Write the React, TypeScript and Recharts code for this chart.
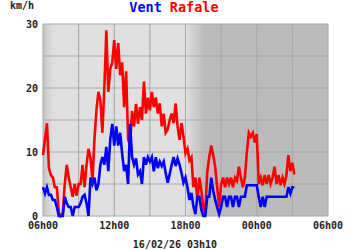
import React from 'react';
import { LineChart, Line, XAxis, YAxis, CartesianGrid } from 'recharts';

// samples every 10 min, from 06h00 to 03h10
const rafale = [
  9.5, 12, 14.5, 7.5, 6.4, 6, 4.5, 4.5, 0.5, 0, 0.5, 5, 8, 6, 4.5, 3, 5, 3.2, 5, 5,
  8, 4.5, 8, 10.5, 9, 5.5, 12, 16.5, 19.4, 18, 13, 20, 29, 19.4, 23, 24, 27.5, 23, 27, 22,
  24, 17, 22.6, 12, 11, 16.4, 14, 17.5, 14.4, 17, 15, 21, 16, 18.5, 16.5, 19.4, 17, 18.5, 16, 17.6,
  14, 16, 13, 13.5, 15, 16, 14.5, 17.6, 14, 11.9, 14.5, 12.4, 9.8, 10.5, 8.7, 9.2, 4.5, 6, 2.5, 6,
  4, 1.4, 0.5, 7, 9.2, 11, 9.5, 7.7, 4.5, 1.4, 5, 6, 4.5, 6, 5, 6, 4.5, 6, 5.5, 7.7,
  6, 4.5, 6, 10, 13, 12.4, 13, 11.5, 12.8, 5, 6, 4.8, 6.4, 5, 6.4, 5, 6, 7.7, 5, 6.4,
  4.8, 6, 5, 6.4, 9.5, 7, 8.3, 6.5,
];

const vent = [
  4.5, 3.5, 4.5, 3.3, 3.3, 2.5, 2.5, 1.4, 0, 0, 0, 3, 2, 1.4, 1.4, 0, 1.4, 1.4, 1.4, 2,
  3, 3.3, 2, 0, 6, 5, 6, 4, 5, 8, 9.2, 8, 10.8, 7, 12, 14.4, 11, 14, 11, 13,
  9.7, 7, 8, 5, 14.4, 9.2, 8, 9, 6.5, 7, 5, 9.2, 8, 9.2, 8.5, 9.2, 7, 9.2, 7.5, 8.5,
  7.8, 8.5, 6.7, 5.2, 6.5, 8, 9.2, 7.8, 9, 8, 6.7, 5.2, 6, 4.5, 2.5, 3.6, 1.5, 0.3, 3, 3,
  1, 0, 0, 3, 3, 6, 4, 2.5, 1.4, 0.3, 1.4, 3, 3, 1.4, 3, 3, 1.4, 3, 3, 1.4,
  3, 3, 3, 4.8, 4.8, 4.8, 4.8, 4.8, 4.8, 3, 1.4, 3, 1.4, 3, 3, 3, 3, 3, 3, 3,
  3, 3, 3, 3, 4.5, 3.5, 4.5, 4.5,
];

const xTicks = [0, 180, 360, 540, 720, 900, 1080, 1260, 1440];
const xLabels: Record<number, string> = { 0: '06h00', 360: '12h00', 720: '18h00', 1080: '00h00', 1440: '06h00' };
const yTicks = [0, 5, 10, 15, 20, 25, 30];
const stamp = '16/02/26 03h10';

const data = rafale.map((r, i) => ({ t: i * 10, rafale: r, vent: vent[i] }));

const mono = 'DejaVu Sans Mono, monospace';
const tickStyle = { fontSize: 10, fontFamily: mono, fontWeight: 'bold' as const, fill: '#222' };

export default function App() {
  return (
    <div style={{ position: 'absolute', left: 0, top: 0, width: 350, height: 250, background: '#fff' }}>
      <LineChart width={350} height={250} data={data} margin={{ top: 24, right: 22, left: 0, bottom: 0 }}>
        <defs>
          <linearGradient id="bg" x1="0" y1="0" x2="1" y2="0">
            <stop offset="0" stopColor="#c4c4c4" />
            <stop offset="0.035" stopColor="#e0e0e0" />
            <stop offset="0.502" stopColor="#e0e0e0" />
            <stop offset="0.565" stopColor="#bbbbbb" />
            <stop offset="1" stopColor="#bbbbbb" />
          </linearGradient>
        </defs>
        <CartesianGrid stroke="#a6a6a6" strokeWidth={1} fill="url(#bg)" fillOpacity={1} />
        <XAxis
          dataKey="t"
          type="number"
          domain={[0, 1440]}
          ticks={xTicks}
          tickFormatter={(v: number) => xLabels[v] ?? ''}
          axisLine={false}
          tickLine={false}
          tickSize={6}
          tickMargin={0}
          height={34}
          interval={0}
          tick={tickStyle}
        />
        <YAxis
          type="number"
          domain={[0, 30]}
          ticks={yTicks}
          tickFormatter={(v: number) => (v % 10 === 0 ? String(v) : '')}
          axisLine={false}
          tickLine={false}
          tickSize={4}
          tickMargin={1}
          width={43}
          interval={0}
          tick={tickStyle}
        />
        <Line type="linear" dataKey="rafale" stroke="#ff0000" strokeWidth={2.6} dot={false} isAnimationActive={false} />
        <Line type="linear" dataKey="vent" stroke="#0000ff" strokeWidth={2.6} dot={false} isAnimationActive={false} />
      </LineChart>
      <svg width={350} height={250} style={{ position: 'absolute', left: 0, top: 0, pointerEvents: 'none' }}>
        <text x={174} y={12} textAnchor="middle" fontFamily={mono} fontWeight="bold" fontSize={13.5}>
          <tspan fill="#0000ff">Vent</tspan>
          <tspan fill="#ff0000" dx={8}>Rafale</tspan>
        </text>
        <text x={10} y={9} fontFamily={mono} fontWeight="bold" fontSize={10} fill="#222">km/h</text>
        <text x={175} y={248} textAnchor="middle" fontFamily={mono} fontWeight="bold" fontSize={10} fill="#222">{stamp}</text>
      </svg>
    </div>
  );
}
